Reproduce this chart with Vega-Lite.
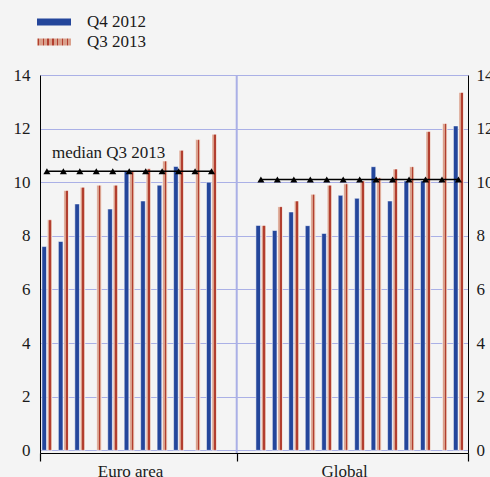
{
  "$schema": "https://vega.github.io/schema/vega-lite/v6.json",
  "width": 428,
  "height": 378,
  "autosize": {"type": "none"},
  "padding": {"left": 40, "top": 75, "right": 22, "bottom": 24},
  "background": "#f4f4f4",
  "config": {
    "view": {"stroke": null},
    "font": "Liberation Serif"
  },
  "data": {
    "values": [
      {"slot": "E1", "region": "Euro area", "Q4 2012": 7.6, "Q3 2013": 8.6, "median": 10.41},
      {"slot": "E2", "region": "Euro area", "Q4 2012": 7.79, "Q3 2013": 9.69, "median": 10.41},
      {"slot": "E3", "region": "Euro area", "Q4 2012": 9.19, "Q3 2013": 9.81, "median": 10.41},
      {"slot": "E4", "region": "Euro area", "Q4 2012": null, "Q3 2013": 9.89, "median": 10.41},
      {"slot": "E5", "region": "Euro area", "Q4 2012": 9.0, "Q3 2013": 9.89, "median": 10.41},
      {"slot": "E6", "region": "Euro area", "Q4 2012": 10.4, "Q3 2013": 10.4, "median": 10.41},
      {"slot": "E7", "region": "Euro area", "Q4 2012": 9.3, "Q3 2013": 10.5, "median": 10.41},
      {"slot": "E8", "region": "Euro area", "Q4 2012": 9.89, "Q3 2013": 10.79, "median": 10.41},
      {"slot": "E9", "region": "Euro area", "Q4 2012": 10.59, "Q3 2013": 11.19, "median": 10.41},
      {"slot": "E10", "region": "Euro area", "Q4 2012": null, "Q3 2013": 11.59, "median": 10.41},
      {"slot": "E11", "region": "Euro area", "Q4 2012": 10.0, "Q3 2013": 11.79, "median": 10.41},
      {"slot": "G1", "region": "Global", "Q4 2012": 8.39, "Q3 2013": 8.39, "median": 10.1},
      {"slot": "G2", "region": "Global", "Q4 2012": 8.2, "Q3 2013": 9.09, "median": 10.1},
      {"slot": "G3", "region": "Global", "Q4 2012": 8.89, "Q3 2013": 9.3, "median": 10.1},
      {"slot": "G4", "region": "Global", "Q4 2012": 8.38, "Q3 2013": 9.55, "median": 10.1},
      {"slot": "G5", "region": "Global", "Q4 2012": 8.09, "Q3 2013": 9.89, "median": 10.1},
      {"slot": "G6", "region": "Global", "Q4 2012": 9.51, "Q3 2013": 9.94, "median": 10.1},
      {"slot": "G7", "region": "Global", "Q4 2012": 9.4, "Q3 2013": 10.05, "median": 10.1},
      {"slot": "G8", "region": "Global", "Q4 2012": 10.58, "Q3 2013": 10.17, "median": 10.1},
      {"slot": "G9", "region": "Global", "Q4 2012": 9.3, "Q3 2013": 10.49, "median": 10.1},
      {"slot": "G10", "region": "Global", "Q4 2012": 10.05, "Q3 2013": 10.58, "median": 10.1},
      {"slot": "G11", "region": "Global", "Q4 2012": 10.05, "Q3 2013": 11.89, "median": 10.1},
      {"slot": "G12", "region": "Global", "Q4 2012": null, "Q3 2013": 12.19, "median": 10.1},
      {"slot": "G13", "region": "Global", "Q4 2012": 12.1, "Q3 2013": 13.35, "median": 10.1}
    ]
  },
  "resolve": {"axis": {"y": "independent"}},
  "layer": [
    {
      "transform": [
        {"fold": ["Q4 2012", "Q3 2013"], "as": ["series", "value"]},
        {"filter": "datum.value != null"}
      ],
      "mark": {"type": "bar", "stroke": "white", "strokeWidth": 0.5},
      "encoding": {
        "x": {
          "field": "slot",
          "type": "nominal",
          "scale": {
            "domain": ["E1","E2","E3","E4","E5","E6","E7","E8","E9","E10","E11","s1","s2","G1","G2","G3","G4","G5","G6","G7","G8","G9","G10","G11","G12","G13"],
            "paddingInner": 0,
            "paddingOuter": 0
          },
          "axis": {
            "title": null,
            "values": ["E1", "E6", "s1", "G6", "G13"],
            "bandPosition": 1,
            "tickExtra": true,
            "labelExpr": "datum.value === 'E6' ? 'Euro area' : datum.value === 'G6' ? 'Global' : ''",
            "tickOpacity": {"condition": {"test": "datum.value === 'E1' || datum.value === 'E6' || datum.value === 'G6'", "value": 0}, "value": 1},
            "tickSize": 8,
            "tickColor": "black",
            "tickWidth": 1.2,
            "domainColor": "black",
            "domainWidth": 1.2,
            "labelAngle": 0,
            "labelFont": "Liberation Serif",
            "labelFontSize": 17,
            "labelColor": "#1a1a1a",
            "labelPadding": 2,
            "grid": false
          }
        },
        "xOffset": {
          "field": "series",
          "type": "nominal",
          "scale": {"domain": ["Q4 2012", "Q3 2013"], "paddingInner": 0.164, "paddingOuter": 0.578, "align": 0.3}
        },
        "y": {
          "field": "value",
          "type": "quantitative",
          "scale": {"domain": [-0.1, 14], "nice": false},
          "axis": {
            "title": null,
            "orient": "left",
            "values": [0, 2, 4, 6, 8, 10, 12, 14],
            "grid": true,
            "gridColor": "#aab0e6",
            "gridWidth": 1,
            "ticks": false,
            "domainColor": "black",
            "domainWidth": 1,
            "labelPadding": 10,
            "labelFont": "Liberation Serif",
            "labelFontSize": 17,
            "labelColor": "#1a1a1a"
          }
        },
        "fill": {
          "field": "series",
          "type": "nominal",
          "scale": {
            "domain": ["Q4 2012", "Q3 2013"],
            "range": [
              "#24469b",
              {"expr": "{gradient: 'linear', x1: 0, x2: 1, y1: 0, y2: 0, stops: [{offset: 0, color: '#d9a08c'}, {offset: 0.03, color: '#d9a08c'}, {offset: 0.03, color: '#b23e2f'}, {offset: 0.07, color: '#b23e2f'}, {offset: 0.07, color: '#d9a08c'}, {offset: 0.17, color: '#d9a08c'}, {offset: 0.17, color: '#b23e2f'}, {offset: 0.21, color: '#b23e2f'}, {offset: 0.21, color: '#d9a08c'}, {offset: 0.30, color: '#d9a08c'}, {offset: 0.30, color: '#b23e2f'}, {offset: 0.34, color: '#b23e2f'}, {offset: 0.34, color: '#d9a08c'}, {offset: 0.45, color: '#d9a08c'}, {offset: 0.45, color: '#b23e2f'}, {offset: 0.49, color: '#b23e2f'}, {offset: 0.49, color: '#d9a08c'}, {offset: 0.59, color: '#d9a08c'}, {offset: 0.59, color: '#b23e2f'}, {offset: 0.63, color: '#b23e2f'}, {offset: 0.63, color: '#d9a08c'}, {offset: 0.73, color: '#d9a08c'}, {offset: 0.73, color: '#b23e2f'}, {offset: 0.77, color: '#b23e2f'}, {offset: 0.77, color: '#d9a08c'}, {offset: 0.87, color: '#d9a08c'}, {offset: 0.87, color: '#b23e2f'}, {offset: 0.91, color: '#b23e2f'}, {offset: 0.91, color: '#d9a08c'}, {offset: 1, color: '#d9a08c'}]}"}
            ]
          },
          "legend": {
            "title": null,
            "orient": "none",
            "legendX": 4,
            "legendY": -63,
            "padding": 0,
            "symbolType": "M-1.7,-0.35H1.7V0.35H-1.7Z",
            "symbolSize": 400,
            "symbolStrokeWidth": 0,
            "labelOffset": 23,
            "rowPadding": 2,
            "labelFont": "Liberation Serif",
            "labelFontSize": 17,
            "labelColor": "#1a1a1a"
          },
          "condition": {
            "test": "datum.series === 'Q3 2013'",
            "value": {
              "gradient": "linear", "x1": 0, "x2": 1, "y1": 0, "y2": 0,
              "stops": [
                {"offset": 0, "color": "#d9a08c"}, {"offset": 0.45, "color": "#d9a08c"},
                {"offset": 0.45, "color": "#b23e2f"}, {"offset": 0.8, "color": "#b23e2f"},
                {"offset": 0.8, "color": "#d9a08c"}, {"offset": 1, "color": "#d9a08c"}
              ]
            }
          }
        }
      }
    },
    {
      "transform": [{"filter": "datum.slot === 'E1'"}],
      "mark": {"type": "rule", "color": "#aab0e6", "strokeWidth": 2},
      "encoding": {
        "x": {"datum": "s2", "type": "nominal", "bandPosition": -0.05}
      }
    },
    {
      "mark": {
        "type": "line",
        "color": "black",
        "strokeWidth": 1.5,
        "point": {"shape": "triangle-up", "size": 50, "filled": true, "color": "black"}
      },
      "encoding": {
        "x": {"field": "slot", "type": "nominal", "bandPosition": 0.42},
        "y": {
          "field": "median",
          "type": "quantitative",
          "axis": {
            "title": null,
            "orient": "right",
            "values": [0, 2, 4, 6, 8, 10, 12, 14],
            "grid": false,
            "ticks": false,
            "domainColor": "black",
            "domainWidth": 1,
            "labelPadding": 8,
            "labelFont": "Liberation Serif",
            "labelFontSize": 17,
            "labelColor": "#1a1a1a"
          }
        },
        "detail": {"field": "region", "type": "nominal"}
      }
    },
    {
      "transform": [{"filter": "datum.slot === 'E1'"}],
      "mark": {"type": "text", "align": "left", "baseline": "alphabetic", "dx": 5, "dy": -13, "font": "Liberation Serif", "fontSize": 17, "color": "#1a1a1a"},
      "encoding": {
        "x": {"field": "slot", "type": "nominal", "bandPosition": 0.42},
        "y": {"field": "median", "type": "quantitative", "axis": null},
        "text": {"value": "median Q3 2013"}
      }
    }
  ]
}
